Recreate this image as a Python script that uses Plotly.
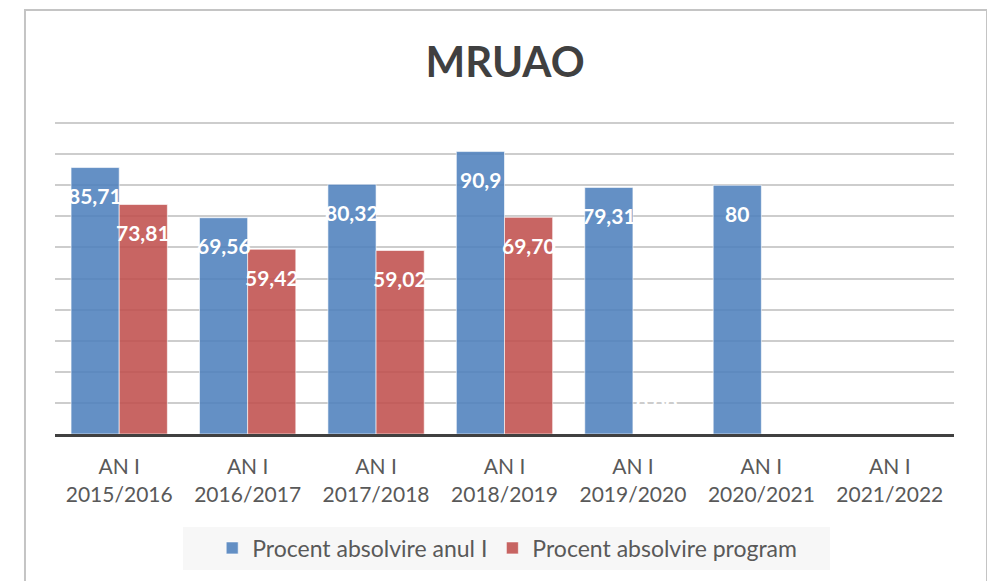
"""
MRUAO - procent absolvire, grouped bars per academic year.
"""
import plotly.graph_objects as go

years = ["2015/2016", "2016/2017", "2017/2018", "2018/2019", "2019/2020", "2020/2021", "2021/2022"]
categories = ["AN I<br>" + y for y in years]

anul_i = [85.71, 69.56, 80.32, 90.9, 79.31, 80, None]
anul_i_labels = ["85,71", "69,56", "80,32", "90,9", "79,31", "80", ""]

program = [73.81, 59.42, 59.02, 69.70, 0, None, None]
program_labels = ["73,81", "59,42", "59,02", "69,70", "0,00", "", ""]

y_ticks = [0, 10, 20, 30, 40, 50, 60, 70, 80, 90, 100]

FONT = "Lato, 'Noto Sans', sans-serif"
BLUE = "rgba(79,129,189,0.88)"
RED = "rgba(192,80,77,0.88)"

fig = go.Figure()
fig.add_trace(go.Bar(
    x=categories, y=anul_i, name="Procent absolvire anul I",
    marker=dict(color=BLUE, line=dict(color="rgba(255,255,255,0.6)", width=1)),
    hoverinfo="x+y",
))
fig.add_trace(go.Bar(
    x=categories, y=program, name="Procent absolvire program",
    marker=dict(color=RED, line=dict(color="rgba(255,255,255,0.6)", width=1)),
    hoverinfo="x+y",
))

# data labels just below the top of each bar (white, bold)
half_bar = 24
for cat, v, lab in zip(categories, anul_i, anul_i_labels):
    if v is None or not lab:
        continue
    fig.add_annotation(x=cat, y=v, text=lab, showarrow=False, xshift=-half_bar,
                       yshift=-28 if v > 0 else 30,
                       font=dict(family=FONT, size=21, color="white", weight="bold"))
for cat, v, lab in zip(categories, program, program_labels):
    if v is None or not lab:
        continue
    fig.add_annotation(x=cat, y=v, text=lab, showarrow=False, xshift=half_bar,
                       yshift=-28 if v > 0 else 30,
                       font=dict(family=FONT, size=21, color="white", weight="bold"))

# outer chart border and legend background
fig.add_shape(type="rect", xref="paper", yref="paper", x0=-0.0334, x1=1.0367, y0=-0.6, y1=1.350,
              line=dict(color="#c4c4c4", width=2), fillcolor="rgba(0,0,0,0)", layer="below")
fig.add_shape(type="rect", xref="paper", yref="paper", x0=0.1424, x1=0.862, y0=-0.433, y1=-0.296,
              line=dict(width=0), fillcolor="#f7f7f7", layer="below")

fig.update_layout(
    width=995, height=581,
    margin=dict(l=47, r=49, t=112, b=155),
    paper_bgcolor="white", plot_bgcolor="rgba(0,0,0,0)",
    barmode="group", bargap=0.25, bargroupgap=0,
    font=dict(family=FONT, color="#595959"),
    title=dict(text="<b>MRUAO</b>", x=0.5006, xref="paper", y=1 - 54 / 581, yanchor="middle",
               font=dict(family=FONT, size=42, color="#404040")),
    legend=dict(orientation="h", x=0.503, xanchor="center", y=-0.363, yanchor="middle",
                bgcolor="rgba(0,0,0,0)", font=dict(family=FONT, size=23, color="#595959"),
                traceorder="normal"),
    showlegend=True,
)
fig.update_xaxes(showline=True, linecolor="#404040", linewidth=3, ticks="", showgrid=False,
                 ticklabelstandoff=12,
                 tickfont=dict(family=FONT, size=21, color="#595959"))
fig.update_yaxes(range=[0, 101], tickvals=y_ticks, showticklabels=False, showgrid=True,
                 gridcolor="#cdcdcd", gridwidth=2, zeroline=False)

fig.write_html("out.html")
